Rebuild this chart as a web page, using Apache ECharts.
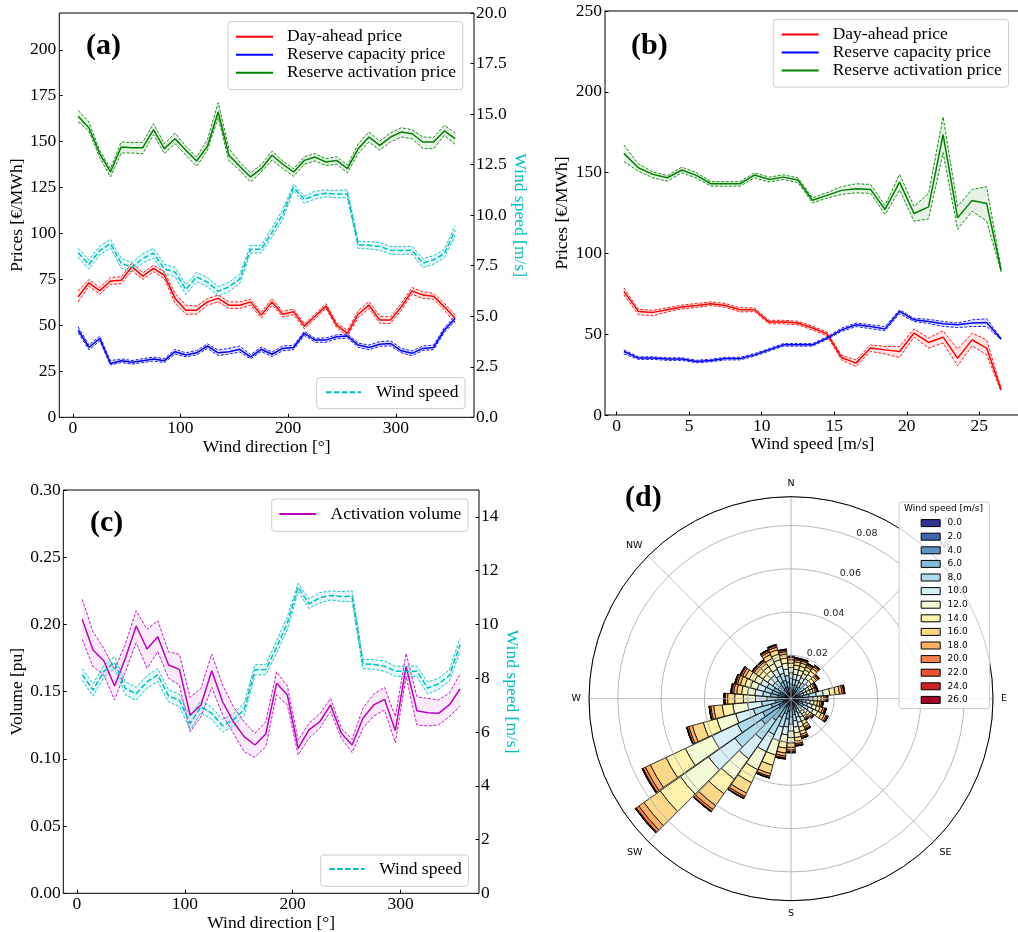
<!DOCTYPE html>
<html>
<head>
<meta charset="utf-8">
<script src="https://cdn.jsdelivr.net/npm/echarts@6/dist/echarts.min.js"></script>
<style>
html, body { margin: 0; padding: 0; background: #fff; }
#chart { width: 1018px; height: 932px; }
</style>
</head>
<body>
<div id="chart"></div>
<script>
// ---------- data ----------
// wind-direction bins [deg] for panels (a) and (c)
const dirBins = [5,15,25,35,45,55,65,75,85,95,105,115,125,135,145,155,165,175,185,195,205,215,225,235,245,255,265,275,285,295,305,315,325,335,345,355];
// wind-speed bins [m/s] for panel (b)
const speedBins = [0.5,1.5,2.5,3.5,4.5,5.5,6.5,7.5,8.5,9.5,10.5,11.5,12.5,13.5,14.5,15.5,16.5,17.5,18.5,19.5,20.5,21.5,22.5,23.5,24.5,25.5,26.5];

// (a) prices vs wind direction [EUR/MWh]: mean, upper and lower bounds
const daMeanA = [65.6,73.2,68.8,74.2,74.6,81.9,76.8,81.0,77.3,64.7,58.3,58.3,62.8,64.7,61.0,61.0,62.8,55.6,62.8,56.1,57.4,49.6,55.0,60.5,50.2,45.7,56.1,61.0,52.9,52.9,60.1,68.8,66.5,65.9,60.1,53.8];
const daHiA   = [68.8,75.0,70.6,76.1,76.5,84.0,78.6,82.8,79.2,67.4,61.0,60.5,64.6,66.5,62.8,62.8,64.3,57.2,64.6,57.6,58.9,50.9,56.3,61.8,51.5,47.3,58.0,63.0,55.0,54.6,62.0,70.6,68.3,67.4,62.0,55.6];
const daLoA   = [62.8,71.4,67.0,72.3,72.7,79.7,75.0,79.2,75.5,62.0,56.1,56.1,61.0,62.8,59.2,59.2,61.0,54.0,61.0,54.6,55.8,48.2,53.6,59.2,48.9,44.2,54.2,59.2,51.1,51.1,58.3,67.0,64.7,64.2,58.3,51.1];
const capMeanA = [47.5,38.0,42.9,29.3,30.8,29.9,30.8,31.7,30.8,35.7,33.9,35.1,38.8,35.1,35.7,37.0,32.9,37.0,34.3,37.5,38.0,45.7,42.0,42.0,43.8,44.2,39.3,38.0,39.8,40.2,36.2,34.8,37.5,38.0,47.5,53.8];
const capHiA   = [49.2,39.3,44.2,30.8,31.8,30.9,31.9,32.8,31.9,37.0,35.1,36.4,40.0,36.6,37.5,38.8,34.1,38.2,35.5,38.8,39.2,46.8,43.0,43.2,44.9,45.3,40.4,39.3,41.2,41.6,37.5,36.1,38.8,39.3,48.8,55.1];
const capLoA   = [46.0,36.7,41.6,28.4,29.8,28.9,29.8,30.6,29.8,34.4,32.9,33.9,37.5,33.6,34.4,35.5,31.8,35.8,33.1,36.2,36.8,44.5,40.9,40.8,42.7,43.1,38.0,36.8,38.6,38.9,35.1,33.5,36.4,36.8,46.2,52.4];
const actMeanA = [163.8,157.6,143.5,133.5,147.1,146.7,146.7,156.5,146.2,151.6,145.3,139.5,147.5,166.1,142.6,136.6,130.8,135.3,142.6,137.7,133.5,139.8,141.6,138.9,139.8,135.3,146.2,152.5,148.0,152.5,155.2,154.3,149.8,149.8,155.8,151.6];
const actHiA   = [167.0,160.7,145.3,135.3,149.8,149.5,149.7,159.8,148.8,154.7,147.5,141.6,151.1,171.2,146.2,138.9,133.0,137.5,144.8,139.5,135.3,141.8,143.5,140.7,141.8,137.2,148.8,155.2,150.3,154.7,157.6,156.5,152.5,152.3,158.9,154.7];
const actLoA   = [160.7,155.8,141.3,130.8,143.8,143.8,143.4,153.8,143.5,148.9,142.6,136.6,145.3,163.0,139.5,134.4,128.0,133.5,140.0,135.3,131.1,137.7,139.5,137.0,137.7,133.0,143.5,149.8,145.3,149.8,152.5,151.6,146.2,146.2,153.4,148.5];

// mean wind speed per direction bin [m/s] (used in (a) and (c))
const windMean = [8.14,7.56,8.25,8.59,7.62,7.42,7.86,8.12,7.34,7.18,6.32,6.94,6.69,6.23,6.45,6.84,8.31,8.32,9.15,10.05,11.38,10.77,10.99,11.08,11.04,11.05,8.53,8.51,8.45,8.26,8.25,8.26,7.63,7.79,8.10,9.24];
const windHi   = [8.36,7.79,8.47,8.80,7.86,7.66,8.09,8.36,7.57,7.41,6.56,7.17,6.91,6.47,6.68,7.07,8.50,8.51,9.38,10.29,11.53,10.95,11.18,11.25,11.22,11.25,8.71,8.69,8.64,8.45,8.44,8.45,7.85,8.00,8.31,9.49];
const windLo   = [7.92,7.33,8.03,8.38,7.38,7.18,7.63,7.88,7.11,6.95,6.08,6.71,6.47,5.99,6.22,6.61,8.12,8.13,8.92,9.81,11.22,10.59,10.80,10.91,10.86,10.85,8.35,8.33,8.26,8.07,8.06,8.07,7.41,7.58,7.89,8.99];

// (b) prices vs wind speed [EUR/MWh]
const daMeanB = [76.5,64.1,63.5,65.1,66.8,67.8,68.9,67.8,65.1,65.1,57.5,57.5,56.9,53.8,50.2,35.6,32.1,41.4,40.3,39.3,50.7,44.9,48.2,35.2,46.5,41.4,15.5];
const daHiB   = [78.6,65.4,64.8,66.4,68.0,69.0,70.0,69.0,66.4,66.3,58.6,58.6,58.0,55.0,51.4,37.0,34.1,43.4,42.4,42.4,53.3,47.6,52.1,40.8,50.7,46.5,16.5];
const daLoB   = [74.4,62.0,61.4,63.8,65.6,66.6,67.7,66.6,63.8,63.9,56.4,56.4,55.8,52.6,49.0,34.1,30.0,39.3,37.8,35.6,48.2,41.4,44.5,30.4,42.8,37.2,14.5];
const capMeanB = [39.3,35.2,35.2,34.6,34.6,33.1,33.7,34.9,34.9,37.2,40.3,43.4,43.4,43.4,47.6,52.7,55.8,54.8,53.3,64.1,58.9,57.9,56.5,55.8,56.9,57.3,47.0];
const capHiB   = [40.3,36.0,36.0,35.4,35.4,33.9,34.5,35.7,35.7,38.0,41.1,44.2,44.2,44.2,48.4,53.7,56.9,55.9,54.7,65.1,59.9,59.2,57.9,56.9,58.9,59.5,47.5];
const capLoB   = [37.8,34.4,34.4,33.8,33.8,32.3,32.9,34.1,34.1,36.4,39.5,42.6,42.6,42.6,46.8,51.7,54.7,53.4,52.1,62.6,57.9,56.6,54.8,54.1,54.8,54.8,46.5];
const actMeanB = [161.9,153.0,148.9,146.8,151.6,148.3,143.1,143.1,143.1,148.5,145.8,147.2,145.4,132.9,135.9,139.0,140.0,139.6,127.2,144.1,124.7,128.8,173.5,122.0,132.8,130.9,89.5];
const actHiB   = [167.1,155.5,150.3,148.2,153.4,150.0,144.4,144.4,144.4,149.9,147.2,148.6,146.8,134.4,137.6,141.3,143.1,142.7,129.7,148.9,129.2,137.1,184.5,129.2,139.6,141.3,90.5];
const actLoB   = [156.8,150.9,146.8,144.7,149.9,146.6,141.6,141.6,141.6,146.8,144.2,145.7,143.8,131.3,134.2,136.5,137.5,137.1,124.1,139.2,119.9,121.4,162.3,114.8,126.1,119.9,88.5];

// (c) activation volume vs wind direction [pu]
const volMean = [0.2038,0.181,0.173,0.1542,0.1748,0.1988,0.1817,0.1909,0.1698,0.1666,0.1326,0.1401,0.1656,0.1425,0.1276,0.1165,0.1103,0.1185,0.1562,0.1475,0.1078,0.1215,0.1276,0.1401,0.119,0.1103,0.1302,0.1401,0.1443,0.121,0.1686,0.1358,0.1343,0.1339,0.1401,0.152];
const volHi   = [0.2187,0.1946,0.1822,0.1666,0.1854,0.2102,0.1964,0.2028,0.1797,0.1778,0.1458,0.1525,0.178,0.1549,0.1388,0.1276,0.119,0.1276,0.1648,0.1542,0.114,0.1264,0.1334,0.145,0.1227,0.1146,0.1376,0.1482,0.1532,0.1314,0.1785,0.1462,0.145,0.1438,0.1488,0.1631];
const volLo   = [0.1889,0.1686,0.1624,0.1438,0.1648,0.1864,0.1673,0.1797,0.1599,0.1549,0.1202,0.1314,0.1532,0.1326,0.119,0.1053,0.1012,0.109,0.1475,0.1401,0.1029,0.1153,0.1227,0.1351,0.1153,0.1046,0.1227,0.1319,0.1363,0.112,0.1611,0.1252,0.1244,0.1252,0.1314,0.1393];

// (d) wind rose: sector directions [deg] and frequency per speed class (per mille)
const roseDirs = [0,10,20,30,40,50,60,70,80,90,100,110,120,130,140,150,160,170,180,190,200,210,220,230,240,250,260,270,280,290,300,310,320,330,340,350];
const freq00 = [0.6,0.57,0.57,0.54,0.57,0.48,0.39,0.39,0.75,0.51,0.45,0.51,0.57,0.39,0.36,0.48,0.57,0.66,0.75,0.84,0.38,0.51,0.64,0.88,0.76,0.5,0.38,0.31,0.84,0.81,0.78,0.66,0.66,0.75,0.78,0.69];
const freq02 = [1.6,1.52,1.52,1.44,1.52,1.28,1.04,1.04,2.0,1.36,1.2,1.36,1.52,1.04,0.96,1.28,1.52,1.76,2.0,2.24,0.76,1.02,1.28,1.76,1.52,1.0,0.76,0.62,2.24,2.16,2.08,1.76,1.76,2.0,2.08,1.84];
const freq04 = [2.2,2.09,2.09,1.98,2.09,1.76,1.43,1.43,2.75,1.87,1.65,1.87,2.09,1.43,1.32,1.76,2.09,2.42,2.75,3.08,1.9,2.55,3.2,4.4,3.8,2.5,1.9,1.55,3.08,2.97,2.86,2.42,2.42,2.75,2.86,2.53];
const freq06 = [2.4,2.28,2.28,2.16,2.28,1.92,1.56,1.56,3.0,2.04,1.8,2.04,2.28,1.56,1.44,1.92,2.28,2.64,3.0,3.36,4.18,5.61,7.04,9.68,8.36,5.5,4.18,3.41,3.36,3.24,3.12,2.64,2.64,3.0,3.12,2.76];
const freq08 = [2.6,2.47,2.47,2.34,2.47,2.08,1.69,1.69,3.25,2.21,1.95,2.21,2.47,1.69,1.56,2.08,2.47,2.86,3.25,3.64,6.46,8.67,10.88,14.96,12.92,8.5,6.46,5.27,3.64,3.51,3.38,2.86,2.86,3.25,3.38,2.99];
const freq10 = [2.6,2.47,2.47,2.34,2.47,2.08,1.69,1.69,3.25,2.21,1.95,2.21,2.47,1.69,1.56,2.08,2.47,2.86,3.25,3.64,6.46,8.67,10.88,14.96,12.92,8.5,6.46,5.27,3.64,3.51,3.38,2.86,2.86,3.25,3.38,2.99];
const freq12 = [2.4,2.28,2.28,2.16,2.28,1.92,1.56,1.56,3.0,2.04,1.8,2.04,2.28,1.56,1.44,1.92,2.28,2.64,3.0,3.36,6.84,9.18,11.52,15.84,13.68,9.0,6.84,5.58,3.36,3.24,3.12,2.64,2.64,3.0,3.12,2.76];
const freq14 = [2.0,1.9,1.9,1.8,1.9,1.6,1.3,1.3,2.5,1.7,1.5,1.7,1.9,1.3,1.2,1.6,1.9,2.2,2.5,2.8,4.94,6.63,8.32,11.44,9.88,6.5,4.94,4.03,2.8,2.7,2.6,2.2,2.2,2.5,2.6,2.3];
const freq16 = [1.6,1.52,1.52,1.44,1.52,1.28,1.04,1.04,2.0,1.36,1.2,1.36,1.52,1.04,0.96,1.28,1.52,1.76,2.0,2.24,3.99,5.36,6.72,9.24,7.98,5.25,3.99,3.26,2.24,2.16,2.08,1.76,1.76,2.0,2.08,1.84];
const freq18 = [1.0,0.95,0.95,0.9,0.95,0.8,0.65,0.65,1.25,0.85,0.75,0.85,0.95,0.65,0.6,0.8,0.95,1.1,1.25,1.4,1.25,1.68,2.11,2.9,2.51,1.65,1.25,1.02,1.4,1.35,1.3,1.1,1.1,1.25,1.3,1.15];
const freq20 = [0.6,0.57,0.57,0.54,0.57,0.48,0.39,0.39,0.75,0.51,0.45,0.51,0.57,0.39,0.36,0.48,0.57,0.66,0.75,0.84,0.61,0.82,1.02,1.41,1.22,0.8,0.61,0.5,0.84,0.81,0.78,0.66,0.66,0.75,0.78,0.69];
const freq22 = [0.3,0.29,0.29,0.27,0.29,0.24,0.2,0.2,0.38,0.26,0.23,0.26,0.29,0.2,0.18,0.24,0.29,0.33,0.38,0.42,0.23,0.31,0.33,0.45,0.4,0.3,0.23,0.19,0.42,0.41,0.39,0.33,0.33,0.38,0.39,0.35];
const freq24 = [0.1,0.1,0.1,0.09,0.1,0.08,0.07,0.07,0.13,0.09,0.08,0.09,0.1,0.07,0.06,0.08,0.1,0.11,0.13,0.14,0,0,0.05,0.08,0.06,0,0,0,0.14,0.14,0.13,0.11,0.11,0.13,0.13,0.12];
const freq26 = [0,0,0,0,0,0,0,0,0,0,0,0,0,0,0,0,0,0,0,0,0,0,0,0,0,0,0,0,0,0,0,0,0,0,0,0];
const speedClassLabels = ['0.0','2.0','4.0','6.0','8.0','10.0','12.0','14.0','16.0','18.0','20.0','22.0','24.0','26.0'];
const compassLabels = ['N','NE','E','SE','S','SW','W','NW'];

// tick labels
const dirTicks = [0, 100, 200, 300];
const speedTicks = [0, 5, 10, 15, 20, 25];
const priceTicksA = [0, 25, 50, 75, 100, 125, 150, 175, 200];
const windTicksC = [0, 2, 4, 6, 8, 10, 12, 14];

// ---------- styling ----------
const SERIF = "'Liberation Serif', 'Times New Roman', serif";
const SANS = "'DejaVu Sans', sans-serif";
const FS = 17.5;
const C_RED = '#ff0000', C_BLUE = '#0000ff', C_GREEN = '#008000', C_CYAN = '#00bfbf', C_MAG = '#bf00bf';
const roseColors = ['#313695','#4066ad','#5e93c4','#85bbd8','#afdbea','#d8eff6','#f3fad5','#fff3ad','#fed889','#fdb265','#f7814c','#e75136','#cc2527','#a50026'];

const pairs = (xs, ys) => xs.map((x, i) => [x, ys[i]]);

// shaded region between the lower and upper bound, drawn as one polygon
function bandArea(xs, lo, hi, fill, xi, yi) {
  return {
    type: 'custom', xAxisIndex: xi, yAxisIndex: yi, silent: true, z: 1,
    data: xs.map((x, i) => [x, lo[i], hi[i]]),
    encode: { x: 0, y: [1, 2] },
    renderItem: (params, api) => {
      if (params.dataIndex !== 0) return null;
      const upper = xs.map((x, i) => api.coord([x, hi[i]]));
      const lower = xs.map((x, i) => api.coord([x, lo[i]])).reverse();
      return { type: 'polygon', shape: { points: upper.concat(lower) }, style: { fill: fill }, silent: true };
    }
  };
}

// mean line with dashed lower/upper bounds and the band between them
function banded(name, xs, mean, lo, hi, color, fill, xi, yi, meanDashed) {
  const thin = { color: color, width: 0.9, type: [3, 1.6] };
  return [
    bandArea(xs, lo, hi, fill, xi, yi),
    { type: 'line', name: name + ' lower', xAxisIndex: xi, yAxisIndex: yi, data: pairs(xs, lo),
      symbol: 'none', lineStyle: thin, silent: true, z: 2 },
    { type: 'line', name: name + ' upper', xAxisIndex: xi, yAxisIndex: yi, data: pairs(xs, hi),
      symbol: 'none', lineStyle: thin, silent: true, z: 2 },
    { type: 'line', name: name, xAxisIndex: xi, yAxisIndex: yi, data: pairs(xs, mean), symbol: 'none',
      lineStyle: { color: color, width: 1.5, type: meanDashed ? [5.5, 2.4] : 'solid' }, z: 3 }
  ];
}

const tickStyle = { show: true, inside: true, length: 3.5, lineStyle: { color: '#000', width: 1 } };
const labelStyle = { color: '#000', fontFamily: SERIF, fontSize: FS };
const nameStyle = { color: '#000', fontFamily: SERIF, fontSize: FS, lineHeight: FS };

function valueAxis(o) {
  return Object.assign({
    type: 'value',
    nameLocation: 'middle',
    axisLine: { show: false, onZero: false },
    splitLine: { show: false },
    nameTextStyle: nameStyle
  }, o);
}

function legendBox(o) {
  return Object.assign({
    orient: 'vertical',
    selectedMode: false,
    itemWidth: 37,
    itemHeight: 10,
    itemGap: 0,
    backgroundColor: 'rgba(255,255,255,0.8)',
    borderColor: '#cccccc',
    borderWidth: 1,
    borderRadius: 3,
    itemStyle: { opacity: 0 },
    textStyle: { color: '#000', fontFamily: SERIF, fontSize: FS, lineHeight: 16.7, padding: [0, 0, 0, 9] }
  }, o);
}

const boldTitle = (text, left, top) => ({
  text: text, left: left, top: top, padding: 0,
  textStyle: { fontFamily: SERIF, fontWeight: 'bold', fontSize: 30, lineHeight: 30, color: '#000' }
});

// ---------- wind rose series ----------
const roseFreqs = [freq00, freq02, freq04, freq06, freq08, freq10, freq12, freq14, freq16, freq18, freq20, freq22, freq24, freq26];
const roseSeries = roseFreqs.map((arr, k) => ({
  type: 'bar',
  name: speedClassLabels[k],
  coordinateSystem: 'polar',
  polarIndex: 0,
  stack: 'rose',
  data: arr.map(v => v / 1000),
  barCategoryGap: '4%',
  itemStyle: { color: roseColors[k], borderColor: '#000', borderWidth: 0.8 },
  silent: true,
  z: 2
}));

const ROSE_CENTER = [791, 698.7];
const ROSE_R = 202;
const ROSE_MAX = 0.0933;

const option = {
  animation: false,
  backgroundColor: '#fff',
  textStyle: { fontFamily: SERIF },
  title: [
    boldTitle('(a)', 86, 31.7),
    boldTitle('(b)', 631, 31.7),
    boldTitle('(c)', 90, 508.3),
    boldTitle('(d)', 625, 483.3),
    { text: 'Wind speed [m/s]', left: 904, top: 503.5, padding: 0, z: 8,
      textStyle: { fontFamily: SANS, fontSize: 9, lineHeight: 11, fontWeight: 'normal', color: '#000' } }
  ],
  grid: [
    { left: 59.3, top: 13, width: 414.7, height: 404.3, show: true, borderColor: '#000', borderWidth: 1, outerBoundsMode: 'none' },
    { left: 605, top: 11, width: 415, height: 404, show: true, borderColor: '#555', borderWidth: 1.5, outerBoundsMode: 'none' },
    { left: 63.3, top: 490, width: 415.7, height: 403.3, show: true, borderColor: '#000', borderWidth: 1, outerBoundsMode: 'none' }
  ],
  xAxis: [
    valueAxis({ gridIndex: 0, min: -12.5, max: 372.5, name: 'Wind direction [°]', nameGap: 20,
      axisTick: Object.assign({ customValues: dirTicks }, tickStyle),
      axisLabel: Object.assign({ customValues: dirTicks, margin: 2 }, labelStyle) }),
    valueAxis({ gridIndex: 1, min: -0.8, max: 27.8, name: 'Wind speed [m/s]', nameGap: 19.5,
      axisTick: Object.assign({ customValues: speedTicks }, tickStyle),
      axisLabel: Object.assign({ customValues: speedTicks, margin: 2 }, labelStyle) }),
    valueAxis({ gridIndex: 2, min: -12.5, max: 372.5, name: 'Wind direction [°]', nameGap: 18,
      axisTick: Object.assign({ customValues: dirTicks }, tickStyle),
      axisLabel: Object.assign({ customValues: dirTicks, margin: 2 }, labelStyle) })
  ],
  yAxis: [
    valueAxis({ gridIndex: 0, position: 'left', min: 0, max: 220, name: 'Prices [€/MWh]', nameGap: 31, nameRotate: 90,
      axisTick: Object.assign({ customValues: priceTicksA }, tickStyle),
      axisLabel: Object.assign({ customValues: priceTicksA, margin: 3 }, labelStyle) }),
    valueAxis({ gridIndex: 0, position: 'right', min: 0, max: 20, interval: 2.5, name: 'Wind speed [m/s]', nameGap: 30, nameRotate: -90,
      nameTextStyle: Object.assign({}, nameStyle, { color: C_CYAN }),
      axisTick: tickStyle,
      axisLabel: Object.assign({ margin: 2, formatter: v => v.toFixed(1) }, labelStyle) }),
    valueAxis({ gridIndex: 1, position: 'left', min: 0, max: 250, interval: 50, name: 'Prices [€/MWh]', nameGap: 32, nameRotate: 90,
      axisTick: tickStyle,
      axisLabel: Object.assign({ margin: 3 }, labelStyle) }),
    valueAxis({ gridIndex: 2, position: 'left', min: 0, max: 0.3, interval: 0.05, name: 'Volume [pu]', nameGap: 36, nameRotate: 90,
      axisTick: tickStyle,
      axisLabel: Object.assign({ margin: 2.5, formatter: v => v.toFixed(2) }, labelStyle) }),
    valueAxis({ gridIndex: 2, position: 'right', min: 0, max: 15, name: 'Wind speed [m/s]', nameGap: 16, nameRotate: -90,
      nameTextStyle: Object.assign({}, nameStyle, { color: C_CYAN }),
      axisTick: Object.assign({ customValues: windTicksC }, tickStyle),
      axisLabel: Object.assign({ customValues: windTicksC, margin: 2 }, labelStyle) })
  ],
  polar: [
    { center: ROSE_CENTER, radius: ROSE_R },
    { center: ROSE_CENTER, radius: ROSE_R },
    { center: ROSE_CENTER, radius: ROSE_R }
  ],
  angleAxis: [
    { polarIndex: 0, type: 'category', data: roseDirs.map(String), startAngle: 95, clockwise: true, boundaryGap: true,
      axisLine: { show: false }, axisTick: { show: false }, axisLabel: { show: false }, splitLine: { show: false } },
    { polarIndex: 1, type: 'value', min: 0, max: 360, interval: 45, startAngle: 90, clockwise: true, z: 3,
      axisLine: { show: true, lineStyle: { color: '#000', width: 1 } },
      axisTick: { show: false },
      splitLine: { show: true, lineStyle: { color: '#b0b0b0', width: 0.9 } },
      axisLabel: { show: true, margin: 8, color: '#000', fontFamily: SANS, fontSize: 9.5,
        formatter: v => (v < 360 && compassLabels[Math.round(v / 45)] !== undefined) ? compassLabels[Math.round(v / 45)] : '' } },
    { polarIndex: 2, type: 'value', min: 0, max: 360, startAngle: 67.5, clockwise: true,
      axisLine: { show: false }, axisTick: { show: false }, axisLabel: { show: false }, splitLine: { show: false } }
  ],
  radiusAxis: [
    { polarIndex: 0, type: 'value', min: 0, max: ROSE_MAX,
      axisLine: { show: false }, axisTick: { show: false }, axisLabel: { show: false }, splitLine: { show: false } },
    { polarIndex: 1, type: 'value', min: 0, max: ROSE_MAX, interval: 0.02, z: 3,
      axisLine: { show: false }, axisTick: { show: false }, axisLabel: { show: false },
      splitLine: { show: true, lineStyle: { color: '#b0b0b0', width: 0.9 } } },
    { polarIndex: 2, type: 'value', min: 0, max: ROSE_MAX, interval: 0.02, z: 3,
      axisLine: { show: false }, axisTick: { show: false }, splitLine: { show: false },
      axisLabel: { show: true, margin: 1, align: 'left', verticalAlign: 'bottom', color: '#222', fontFamily: SANS, fontSize: 9.5,
        formatter: v => (v > 0.001 && v < 0.09) ? v.toFixed(2) : '' } }
  ],
  legend: [
    legendBox({ data: ['Day-ahead price', 'Reserve capacity price', 'Reserve activation price'], left: 228, top: 21.7, padding: [6, 6.7, 8, 7] }),
    legendBox({ data: ['Wind speed'], left: 316.7, top: 377.7, itemWidth: 35, padding: [5.6, 6.7, 7.2, 8.3],
      textStyle: { color: '#000', fontFamily: SERIF, fontSize: FS, lineHeight: 16.7, padding: [0, 0, 0, 10] } }),
    legendBox({ data: ['Day-ahead price', 'Reserve capacity price', 'Reserve activation price'], left: 773.3, top: 19.3, padding: [6.3, 6.7, 7.5, 7.4] }),
    legendBox({ data: ['Activation volume'], left: 271.7, top: 499, padding: [6, 6.7, 8.3, 6.6],
      textStyle: { color: '#000', fontFamily: SERIF, fontSize: FS, lineHeight: 16.7, padding: [0, 0, 0, 9.3] } }),
    legendBox({ data: ['Wind speed'], left: 320.7, top: 855, itemWidth: 35, padding: [5, 6.7, 8.3, 7.6],
      textStyle: { color: '#000', fontFamily: SERIF, fontSize: FS, lineHeight: 16.7, padding: [0, 0, 0, 10] } }),
    { data: speedClassLabels, left: 899, top: 502, orient: 'vertical', selectedMode: false, icon: 'rect',
      itemWidth: 19, itemHeight: 7, itemGap: 0, z: 6,
      backgroundColor: 'rgba(255,255,255,0.8)', borderColor: '#cccccc', borderWidth: 1, borderRadius: 3,
      padding: [14.3, 22, 2, 21.7],
      itemStyle: { borderColor: '#000', borderWidth: 1 },
      textStyle: { color: '#000', fontFamily: SANS, fontSize: 9, lineHeight: 13.6, padding: [0, 0, 0, 2.4] } }
  ],
  series: [].concat(
    banded('Day-ahead price', dirBins, daMeanA, daLoA, daHiA, C_RED, 'rgba(255,0,0,0.1)', 0, 0, false),
    banded('Reserve capacity price', dirBins, capMeanA, capLoA, capHiA, C_BLUE, 'rgba(0,0,255,0.1)', 0, 0, false),
    banded('Reserve activation price', dirBins, actMeanA, actLoA, actHiA, C_GREEN, 'rgba(0,128,0,0.1)', 0, 0, false),
    banded('Wind speed', dirBins, windMean, windLo, windHi, C_CYAN, 'rgba(0,191,191,0.1)', 0, 1, true),
    banded('Day-ahead price', speedBins, daMeanB, daLoB, daHiB, C_RED, 'rgba(255,0,0,0.1)', 1, 2, false),
    banded('Reserve capacity price', speedBins, capMeanB, capLoB, capHiB, C_BLUE, 'rgba(0,0,255,0.1)', 1, 2, false),
    banded('Reserve activation price', speedBins, actMeanB, actLoB, actHiB, C_GREEN, 'rgba(0,128,0,0.1)', 1, 2, false),
    banded('Activation volume', dirBins, volMean, volLo, volHi, C_MAG, 'rgba(191,0,191,0.08)', 2, 3, false),
    banded('Wind speed', dirBins, windMean, windLo, windHi, C_CYAN, 'rgba(0,191,191,0.1)', 2, 4, true),
    roseSeries
  )
};

const chart = echarts.init(document.getElementById('chart'), null, { renderer: 'canvas', width: 1018, height: 932 });
chart.setOption(option);
</script>
</body>
</html>
